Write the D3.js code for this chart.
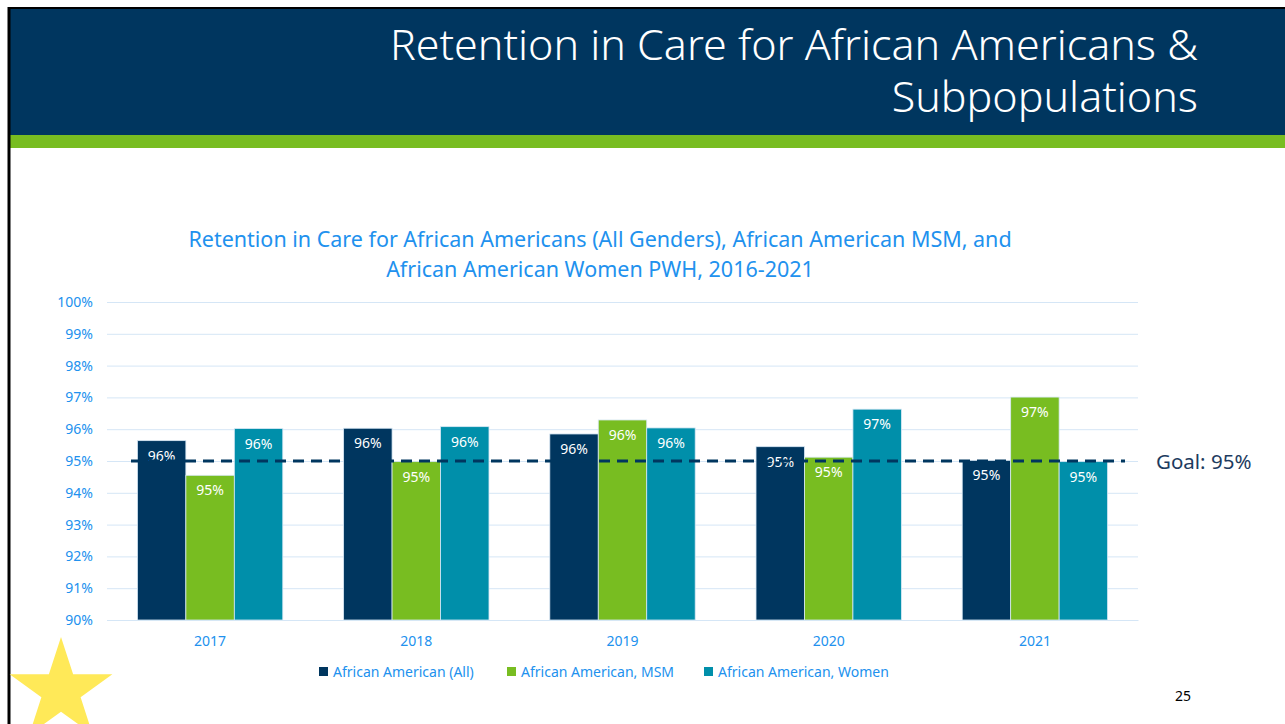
<!DOCTYPE html>
<html>
<head>
<meta charset="utf-8">
<script src="https://cdn.jsdelivr.net/npm/d3@7"></script>
<style>
  html, body { margin: 0; padding: 0; background: #fff; }
  svg { display: block; font-family: "Noto Sans", sans-serif; font-variant-ligatures: none; }
</style>
</head>
<body>
<svg id="slide" width="1285" height="724"></svg>
<script>
// data
let years = ['2017', '2018', '2019', '2020', '2021'];
let seriesNames = ['African American (All)', 'African American, MSM', 'African American, Women'];
let allValues = [95.64, 96.03, 95.85, 95.45, 95.02];
let msmValues = [94.55, 94.98, 96.29, 95.12, 97.01];
let womenValues = [96.02, 96.08, 96.04, 96.63, 94.98];
let barLabels = [
    ['96%', '96%', '96%', '95%', '95%'],
    ['95%', '95%', '96%', '95%', '97%'],
    ['96%', '96%', '96%', '97%', '95%']
];
let yTicks = [90, 91, 92, 93, 94, 95, 96, 97, 98, 99, 100];
let goal = 95;

let seriesValues = [allValues, msmValues, womenValues];
let colors = ['#00365f', '#78bd21', '#008faa'];
let blueText = '#2191ee';

const width = 1285, height = 724;
const svg = d3.select('#slide');

// slide frame
svg.append('rect').attr('x', 10).attr('y', 9).attr('width', width - 10).attr('height', 126).attr('fill', '#00365f');
svg.append('rect').attr('x', 10).attr('y', 135).attr('width', width - 10).attr('height', 13).attr('fill', '#78bd21');
svg.append('line').attr('x1', 9).attr('x2', 9).attr('y1', 7).attr('y2', height).attr('stroke', '#000').attr('stroke-width', 3);
svg.append('line').attr('x1', 8).attr('x2', width).attr('y1', 8).attr('y2', 8).attr('stroke', '#000').attr('stroke-width', 2);

const header = svg.append('text')
    .attr('fill', '#fff')
    .attr('text-anchor', 'end')
    .style('font-size', '43px')
    .style('font-weight', 300);
header.append('tspan').attr('x', 1198).attr('y', 60).text('Retention in Care for African Americans &');
header.append('tspan').attr('x', 1198).attr('y', 112).text('Subpopulations');

// chart title
const title = svg.append('text')
    .attr('fill', blueText)
    .attr('text-anchor', 'middle')
    .style('font-size', '21.5px');
title.append('tspan').attr('x', 600).attr('y', 247).text('Retention in Care for African Americans (All Genders), African American MSM, and');
title.append('tspan').attr('x', 600).attr('y', 277).text('African American Women PWH, 2016-2021');

// scales
const x0 = d3.scaleBand()
    .domain(years)
    .range([107, 1138])
    .paddingInner(0.295)
    .paddingOuter(0.1475);

const x1 = d3.scaleBand()
    .domain(d3.range(seriesNames.length))
    .range([0, x0.bandwidth()]);

const y = d3.scaleLinear()
    .domain([90, 100])
    .range([620, 302]);

// grid
const yAxis = svg.append('g')
    .attr('transform', 'translate(107,0)')
    .call(d3.axisLeft(y).tickValues(yTicks).tickSize(-(1138 - 107)).tickFormat(d => d + '%').tickPadding(14))
    .attr('font-family', null)
    .attr('font-size', null);
yAxis.select('.domain').remove();
yAxis.selectAll('.tick line').attr('stroke', '#d5e6f6').attr('stroke-width', 1);
yAxis.selectAll('.tick text').attr('fill', blueText).style('font-size', '14px');

const xAxis = svg.append('g')
    .attr('transform', 'translate(0,620)')
    .call(d3.axisBottom(x0).tickSize(0).tickPadding(16))
    .attr('font-family', null)
    .attr('font-size', null);
xAxis.select('.domain').attr('stroke', '#d5e6f6');
xAxis.selectAll('.tick text').attr('fill', blueText).style('font-size', '14px');

// bars
const rows = [];
years.forEach((yr, i) => {
    seriesValues.forEach((vals, s) => {
        rows.push({ year: yr, s: s, value: vals[i], label: barLabels[s][i] });
    });
});

svg.append('g')
    .selectAll('rect')
    .data(rows)
    .join('rect')
    .attr('x', d => x0(d.year) + x1(d.s))
    .attr('y', d => y(d.value))
    .attr('width', x1.bandwidth())
    .attr('height', d => y(90) - y(d.value))
    .attr('fill', d => colors[d.s])
    .attr('stroke', '#d8e8f5')
    .attr('stroke-width', 0.8);

svg.append('g')
    .selectAll('text')
    .data(rows)
    .join('text')
    .attr('x', d => x0(d.year) + x1(d.s) + x1.bandwidth() / 2)
    .attr('y', d => y(d.value) + 20)
    .attr('text-anchor', 'middle')
    .attr('fill', '#fff')
    .style('font-size', '14px')
    .text(d => d.label);

// goal line
svg.append('line')
    .attr('x1', 131).attr('x2', 1125)
    .attr('y1', y(goal)).attr('y2', y(goal))
    .attr('stroke', '#00365f')
    .attr('stroke-width', 3)
    .attr('stroke-dasharray', '11,7');

svg.append('text')
    .attr('x', 1156).attr('y', y(goal) + 8)
    .attr('fill', '#1d3b60')
    .style('font-size', '20.5px')
    .text('Goal: ' + goal + '%');

// legend
const legendX = [319, 507, 704];
const legend = svg.append('g')
    .selectAll('g')
    .data(seriesNames)
    .join('g')
    .attr('transform', (d, i) => `translate(${legendX[i]},672)`);
legend.append('rect').attr('x', 0).attr('y', -5).attr('width', 9).attr('height', 9).attr('fill', (d, i) => colors[i]);
legend.append('text').attr('x', 14).attr('y', 5).attr('fill', blueText).style('font-size', '14px').text(d => d);

// star
const cx = 61, cy = 691, R = 54, r = R * 0.382;
const starPts = d3.range(10).map(i => {
    const a = -Math.PI / 2 + i * Math.PI / 5;
    const rad = i % 2 === 0 ? R : r;
    return [cx + rad * Math.cos(a), cy + rad * Math.sin(a)];
});
svg.append('polygon')
    .attr('points', starPts.map(p => p.join(',')).join(' '))
    .attr('fill', '#ffe958');

// page number
svg.append('text')
    .attr('x', 1183).attr('y', 701)
    .attr('text-anchor', 'middle')
    .attr('fill', '#000')
    .style('font-size', '14px')
    .text('25');
</script>
</body>
</html>
